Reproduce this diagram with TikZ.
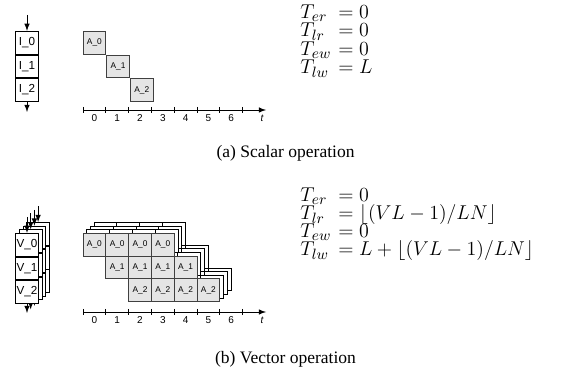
\documentclass[tikz,border=0pt]{standalone}
\usepackage{fontspec}
\setmainfont{Liberation Serif}
\setsansfont{Liberation Sans}
\usetikzlibrary{positioning}
\tikzset{>=latex}
\tikzset{
  slot/.style={draw=black!75, fill=black!10, minimum width=13.7pt, minimum height=13.7pt, inner sep=0pt, font=\sffamily\fontsize{5}{6}\selectfont},
  ghost/.style={draw=black, fill=white, minimum width=13.7pt, minimum height=13.7pt, inner sep=0pt},
  reg/.style={draw=black, fill=white, minimum width=13.7pt, minimum height=13.7pt, inner sep=0pt, font=\sffamily\fontsize{7}{8}\selectfont},
  tlabel/.style={inner sep=0pt, font=\sffamily\fontsize{6}{7}\selectfont},
  eq/.style={anchor=base west, inner sep=0pt, font=\fontsize{12.5}{14}\selectfont},
  subcap/.style={inner sep=0pt, font=\fontsize{10.5}{12}\selectfont}
}

\begin{document}
\begin{tikzpicture}[x=0.6pt, y=-0.6pt, line width=0.5pt]
\useasboundingbox (0,0) rectangle (567,383);

% scalar operation
\node[reg] (i0) at (27,42.7) {I\_0};
\node[reg, below=0pt of i0] (i1) {I\_1};
\node[reg, below=0pt of i1] (i2) {I\_2};
\coordinate (iin) at (27,15);
\coordinate (iout) at (27,112);
\draw[->] (iin) -- (i0);
\draw[->] (i2) -- (iout);

\node[slot] (s0) at (94.4,42.7) {A\_0};
\node[slot, below right=0pt and 0pt of s0] (s1) {A\_1};
\node[slot, below right=0pt and 0pt of s1] (s2) {A\_2};

\coordinate (sa0) at (83,110);
\coordinate (sa1) at (266,110);
\draw[->] (sa0) -- (sa1);
\foreach \i in {0,...,7}
  \draw ({83+22.8*\i},107) -- ++(0,6);
\foreach \i in {0,...,6}
  \node[tlabel] (sn\i) at ({94.4+22.8*\i},118.5) {\i};
\node[tlabel, font=\sffamily\itshape\fontsize{6}{7}\selectfont] (st) at (262,118.5) {t};

\node[eq] (ser) at (300,18.3) {$T_{er}$};
\node[eq] (slr) at (300,36.8) {$T_{lr}$};
\node[eq] (sew) at (300,55.3) {$T_{ew}$};
\node[eq] (slw) at (300,73.8) {$T_{lw}$};
\node[eq] (ser2) at (338,18.3) {$=0$};
\node[eq] (slr2) at (338,36.8) {$=0$};
\node[eq] (sew2) at (338,55.3) {$=0$};
\node[eq] (slw2) at (338,73.8) {$=L$};

\node[subcap] (capa) at (285.5,153) {(a) Scalar operation};

% vector operation
\foreach \k in {3,2,1}{
  \begin{scope}[shift={({3.7*\k},{-3.6*\k})}]
    \coordinate (vin\k) at (27,217);
    \coordinate (vout\k) at (27,313);
    \node[reg] (vr\k-0) at (27,244.7) {};
    \node[reg, below=0pt of vr\k-0] (vr\k-1) {};
    \node[reg, below=0pt of vr\k-1] (vr\k-2) {};
    \draw[->] (vin\k) -- (vr\k-0);
    \draw[->] (vr\k-2) -- (vout\k);
    \foreach \r in {0,1,2}
      \foreach \c in {0,...,3}
        \node[ghost] (ga\k-\r\c) at ({94.4+22.8*(\r+\c)},{244.7+22.8*\r}) {};
  \end{scope}
}
\node[reg] (vr0) at (27,244.7) {V\_0};
\node[reg, below=0pt of vr0] (vr1) {V\_1};
\node[reg, below=0pt of vr1] (vr2) {V\_2};
\coordinate (vin) at (27,217);
\coordinate (vout) at (27,313);
\draw[->] (vin) -- (vr0);
\draw[->] (vr2) -- (vout);

\foreach \r in {0,1,2}
  \foreach \c in {0,...,3}
    \node[slot] (va\r\c) at ({94.4+22.8*(\r+\c)},{244.7+22.8*\r}) {A\_\r};

\coordinate (va0) at (83,312);
\coordinate (va1) at (266,312);
\draw[->] (va0) -- (va1);
\foreach \i in {0,...,7}
  \draw ({83+22.8*\i},309) -- ++(0,6);
\foreach \i in {0,...,6}
  \node[tlabel] (vn\i) at ({94.4+22.8*\i},320.5) {\i};
\node[tlabel, font=\sffamily\itshape\fontsize{6}{7}\selectfont] (vt) at (262,320.5) {t};

\node[eq] (ver) at (300,202) {$T_{er}$};
\node[eq] (vlr) at (300,220) {$T_{lr}$};
\node[eq] (vew) at (300,238) {$T_{ew}$};
\node[eq] (vlw) at (300,256) {$T_{lw}$};
\node[eq] (ver2) at (338,202) {$=0$};
\node[eq] (vlr2) at (338,220) {$=\lfloor (VL-1)/LN\rfloor$};
\node[eq] (vew2) at (338,238) {$=0$};
\node[eq] (vlw2) at (338,256) {$=L+\lfloor (VL-1)/LN\rfloor$};

\node[subcap] (capb) at (285.5,359) {(b) Vector operation};
\end{tikzpicture}
\end{document}
